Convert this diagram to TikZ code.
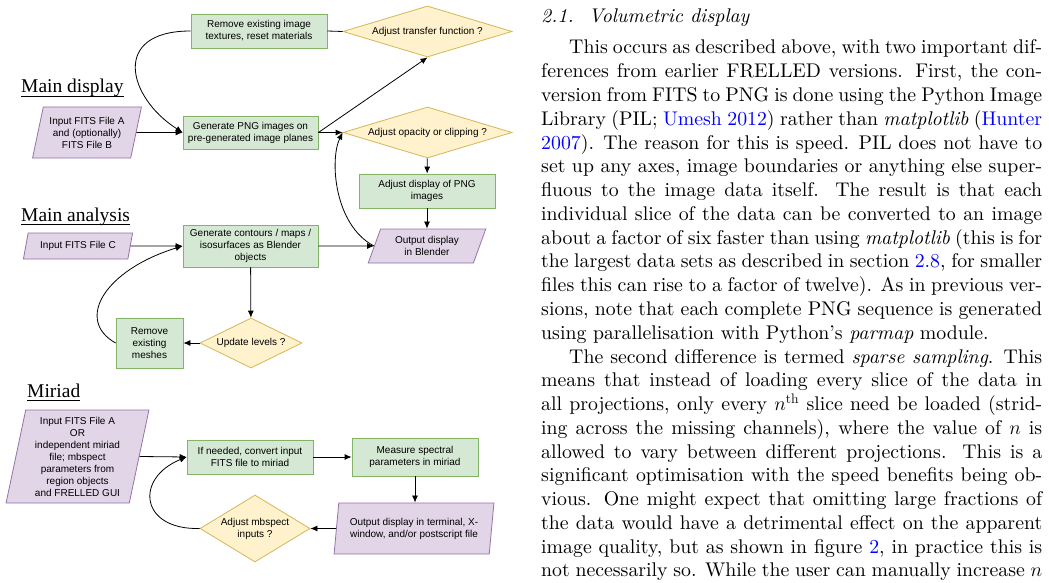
\documentclass[tikz,border=0pt]{standalone}
\usepackage{fix-cm}
\usepackage{fontspec}
\usepackage{tikz}
\usepackage{xcolor}
\newfontfamily\flowfont{Liberation Sans}
\newfontfamily\labelfont{Liberation Serif}
\newfontfamily\bodyfont{lmroman10}[Extension=.otf, UprightFont=*-regular, ItalicFont=*-italic]
\definecolor{boxgreen}{HTML}{D5E8D4}
\definecolor{edgegreen}{HTML}{82B366}
\definecolor{boxyellow}{HTML}{FFF2CC}
\definecolor{edgeyellow}{HTML}{D6B656}
\definecolor{boxpurple}{HTML}{E1D5E7}
\definecolor{edgepurple}{HTML}{9673A6}
\usetikzlibrary{shapes.geometric,arrows.meta}
\tikzset{>={Latex[length=7pt,width=6pt]}}

\begin{document}
\begin{tikzpicture}[x=1pt, y=-1pt,
    every node/.style={font=\flowfont\fontsize{10}{12}\selectfont, align=center, inner sep=0pt},
    process/.style 2 args={draw=edgegreen, fill=boxgreen, line width=0.8pt,
      minimum width=#1, minimum height=#2},
    decision/.style n args={3}{diamond, draw=edgeyellow, fill=boxyellow, line width=0.8pt,
      minimum width=#1, minimum height=#2, shape aspect=#3},
    io/.style n args={4}{trapezium, trapezium left angle=#3, trapezium right angle=#4,
      trapezium stretches=true, draw=edgepurple, fill=boxpurple, line width=0.8pt,
      minimum width=#1, minimum height=#2},
    sectlabel/.style={anchor=base west, font=\labelfont\fontsize{19.5}{23}\selectfont},
    link/.style={->, line width=0.8pt},
    plainlink/.style={line width=0.8pt}]
    \fill[white] (0,0) rectangle (1049,583);
    \useasboundingbox (0,0) rectangle (1049,583);

    % main display
    \node[sectlabel] (maindisp) at (21,93) {Main display};
    \node[process={136}{34}] (remtex) at (259,31) {Remove existing image\\textures, reset materials};
    \node[decision={169}{51}{3.3}] (transfer) at (427.5,31.5) {Adjust transfer function ?};
    \node[io={110}{51}{73.6}{106.4}] (inA) at (87,132.5) {Input FITS File A\\and (optionally)\\FITS File B};
    \node[process={135}{33}] (genpng) at (250.5,132.5) {Generate PNG images on\\pre-generated image planes};
    \node[decision={169}{51}{3.3}] (opacity) at (427.5,132.5) {Adjust opacity or clipping ?};
    \node[process={136}{34}] (adjpng) at (427,191) {Adjust display of PNG\\images};

    % main analysis
    \node[sectlabel] (mainana) at (21,221.5) {Main analysis};
    \node[io={110}{26}{69}{111}] (inC) at (78,246) {Input FITS File C};
    \node[process={135}{42}] (contours) at (250.5,246) {Generate contours / maps /\\isosurfaces as Blender\\objects};
    \node[io={118}{34}{66.2}{113.8}] (outB) at (427,246) {Output display\\in Blender};
    \node[decision={102}{50}{2}] (update) at (251,343) {Update levels ?};
    \node[process={67}{50}] (remmesh) at (149.5,343) {Remove\\existing\\meshes};

    % miriad
    \node[sectlabel] (miriad) at (27,397.5) {Miriad};
    \node[io={143}{93}{78.5}{101.5}] (inMir) at (77.5,456.5) {Input FITS File A\\OR\\independent miriad\\file; mbspect\\parameters from\\region objects\\and FRELLED GUI};
    \node[process={126}{34}] (ifneed) at (250,457) {If needed, convert input\\FITS file to miriad};
    \node[process={126}{38}] (measure) at (415,457) {Measure spectral\\parameters in miriad};
    \node[io={160}{51}{79.4}{100.6}] (outT) at (414,528.5) {Output display in terminal, X-\\window, and/or postscript file};
    \node[decision={110}{67}{1.64}] (mbspect) at (255,528.5) {Adjust mbspect\\inputs ?};

    \foreach \lbl in {maindisp, mainana, miriad}
      \draw[line width=0.8pt] ([yshift=-3pt]\lbl.base west) -- ([yshift=-3pt]\lbl.base east);

    \draw[plainlink] (remtex.east) -- (transfer.west);
    \draw[link] (remtex.west) .. controls +(-80,0) and +(-55,-35) .. (genpng.west);
    \draw[link] (inA.east) -- (genpng.west);
    \draw[link] (genpng.east) -- (transfer.south);
    \draw[link] (genpng.east) -- (opacity.west);
    \draw[link] (opacity) -- (adjpng);
    \draw[link] (adjpng) -- (outB);
    \draw[link] (inC.east) -- (contours.west);
    \draw[link] (contours.east) -- (outB.west);
    \draw[link] (outB.west) .. controls +(-40,-21) and +(-13,27) .. (opacity.west);
    \draw[link] (contours) -- (update);
    \draw[link] (update) -- (remmesh);
    \draw[link] (remmesh.west) .. controls +(-41,-23) and +(-78,24) .. (contours.west);
    \draw[link] (inMir.east) -- (ifneed.west);
    \draw[link] (ifneed) -- (measure);
    \draw[link] (measure.south) -- (measure.south |- outT.north);
    \draw[link] (outT.west) -- (mbspect.east);
    \draw[link] (mbspect.west) .. controls +(-60,1.5) and +(-52,21) .. (ifneed.west);

    % text column
    \node[anchor=base west, font=\bodyfont\itshape\fontsize{19.8}{23.77}\selectfont] (sechead) at (541,23) {2.1.\hspace{15pt}Volumetric display};
    \node[anchor=base west, text width=501pt, align=justify, font=\bodyfont\fontsize{19.8}{23.77}\selectfont] (bodytext) at (541,54) {\hyphenpenalty=10000 \exhyphenpenalty=10000
      \hspace*{28pt}This occurs as described above, with two important dif-\linebreak
      ferences from earlier FRELLED versions. First, the con-\linebreak
      version from FITS to PNG is done using the Python Image\linebreak
      Library (PIL; \textcolor{blue}{Umesh 2012}) rather than \textit{matplotlib} (\textcolor{blue}{Hunter}\linebreak
      \textcolor{blue}{2007}). The reason for this is speed. PIL does not have to\linebreak
      set up any axes, image boundaries or anything else super-\linebreak
      fluous to the image data itself. The result is that each\linebreak
      individual slice of the data can be converted to an image\linebreak
      about a factor of six faster than using \textit{matplotlib} (this is for\linebreak
      the largest data sets as described in section \textcolor{blue}{2.8}, for smaller\linebreak
      files this can rise to a factor of twelve). As in previous ver-\linebreak
      sions, note that each complete PNG sequence is generated\linebreak
      using parallelisation with Python’s \textit{parmap} module.\par
      \hspace*{28pt}The second difference is termed \textit{sparse sampling}. This\linebreak
      means that instead of loading every slice of the data in\linebreak
      all projections, only every $n^{\mathrm{th}}$ slice need be loaded (strid-\linebreak
      ing across the missing channels), where the value of $n$ is\linebreak
      allowed to vary between different projections. This is a\linebreak
      significant optimisation with the speed benefits being ob-\linebreak
      vious. One might expect that omitting large fractions of\linebreak
      the data would have a detrimental effect on the apparent\linebreak
      image quality, but as shown in figure \textcolor{blue}{2}, in practice this is\linebreak
      not necessarily so. While the user can manually increase $n$\parfillskip=0pt};
  \end{tikzpicture}
\end{document}
